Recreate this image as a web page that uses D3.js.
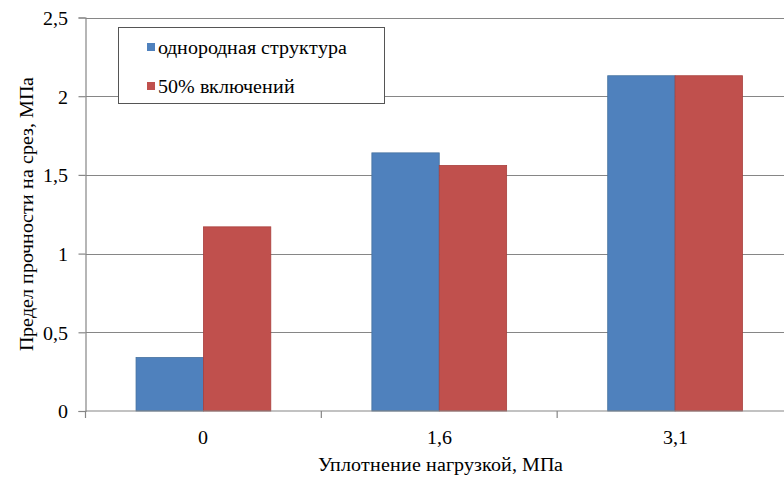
<!DOCTYPE html>
<html>
<head>
<meta charset="utf-8">
<script src="https://cdn.jsdelivr.net/npm/d3@7/dist/d3.min.js"></script>
<style>
  @font-face {
    font-family: "ChartSerif";
    src: local("Liberation Serif"), local("LiberationSerif"), local("Tinos"), local("Times New Roman");
  }
  body { margin: 0; background: #fff; }
  #fig text { font-family: "ChartSerif", "Liberation Serif", serif; }
</style>
</head>
<body>
<svg id="fig" width="784" height="478"></svg>
<script>
// Compaction load categories (x axis) and shear strength per structure type
const categories = ["0", "1,6", "3,1"];
const seriesNames = ["однородная структура", "50% включений"];
const homogeneous = [0.34, 1.64, 2.13];
const inclusions50 = [1.17, 1.56, 2.13];
const yTicks = [0, 0.5, 1, 1.5, 2, 2.5];
const yTickLabels = ["0", "0,5", "1", "1,5", "2", "2,5"];
const xTitle = "Уплотнение нагрузкой, МПа";
const yTitle = "Предел прочности на срез, МПа";
const colors = ["#4F81BD", "#C0504D"];
const strokeColors = ["#46729f", "#a9403d"];

const FS = "20px";
const svg = d3.select("#fig");
const plot = { left: 85.5, right: 793, top: 17.5, bottom: 411 };

const x = d3.scaleBand().domain(categories).range([plot.left, plot.right]).paddingInner(0).paddingOuter(0);
const inner = d3.scaleBand().domain([0, 1]).range([0, x.bandwidth()]).paddingInner(0).paddingOuter(0.75);
const y = d3.scaleLinear().domain([0, 2.5]).range([plot.bottom, plot.top]);

const gridColor = "#868686";

function label(sel) {
  return sel.style("font-size", FS).attr("fill", "#000");
}

// horizontal gridlines
svg.append("g").selectAll("line").data(yTicks.slice(1)).join("line")
  .attr("x1", plot.left).attr("x2", 784)
  .attr("y1", d => Math.round(y(d)) + 0.5).attr("y2", d => Math.round(y(d)) + 0.5)
  .attr("stroke", gridColor).attr("stroke-width", 1.2);

// bars
const series = [homogeneous, inclusions50];
series.forEach((vals, si) => {
  svg.append("g").selectAll("rect").data(vals).join("rect")
    .attr("x", (d, i) => x(categories[i]) + inner(si))
    .attr("width", inner.bandwidth())
    .attr("y", d => y(d))
    .attr("height", d => y(0) - y(d))
    .attr("fill", colors[si])
    .attr("stroke", strokeColors[si])
    .attr("stroke-width", 0.8);
});

// y axis
const yAxis = d3.axisLeft(y).tickValues(yTicks)
  .tickFormat((d, i) => yTickLabels[i]).tickSize(7).tickPadding(11);
const gy = svg.append("g").attr("transform", `translate(${plot.left},0)`).call(yAxis);
gy.attr("font-family", null).attr("font-size", null);
gy.select(".domain").attr("stroke", gridColor).attr("stroke-width", 1.2);
gy.selectAll(".tick line").attr("stroke", gridColor).attr("stroke-width", 1.2);
label(gy.selectAll(".tick text")).attr("dy", "0.34em");

// x axis: ticks sit at category boundaries
const boundaries = categories.map(c => x(c)).concat([plot.right]);
svg.append("line")
  .attr("x1", plot.left).attr("x2", 784)
  .attr("y1", plot.bottom).attr("y2", plot.bottom)
  .attr("stroke", gridColor).attr("stroke-width", 1.2);
svg.append("g").selectAll("line").data(boundaries).join("line")
  .attr("x1", d => d).attr("x2", d => d)
  .attr("y1", plot.bottom).attr("y2", plot.bottom + 7)
  .attr("stroke", gridColor).attr("stroke-width", 1.2);
label(svg.append("g").selectAll("text").data(categories).join("text")
  .attr("x", d => x(d) + x.bandwidth() / 2)
  .attr("y", 444)
  .attr("text-anchor", "middle")
  .text(d => d));

// axis titles
label(svg.append("text")
  .attr("x", 440).attr("y", 471)
  .attr("text-anchor", "middle")
  .text(xTitle));
label(svg.append("text")
  .attr("transform", `translate(33,${(plot.top + plot.bottom) / 2}) rotate(-90)`)
  .attr("text-anchor", "middle")
  .text(yTitle));

// legend
const legend = svg.append("g");
legend.append("rect")
  .attr("x", 118.5).attr("y", 27.5).attr("width", 266).attr("height", 76)
  .attr("fill", "#fff").attr("stroke", "#555").attr("stroke-width", 1);
seriesNames.forEach((name, i) => {
  const cy = 47 + i * 39;
  legend.append("rect")
    .attr("x", 147).attr("y", cy - 4).attr("width", 8).attr("height", 8)
    .attr("fill", colors[i]);
  label(legend.append("text")
    .attr("x", 158).attr("y", cy + 7)
    .text(name));
});
</script>
</body>
</html>
